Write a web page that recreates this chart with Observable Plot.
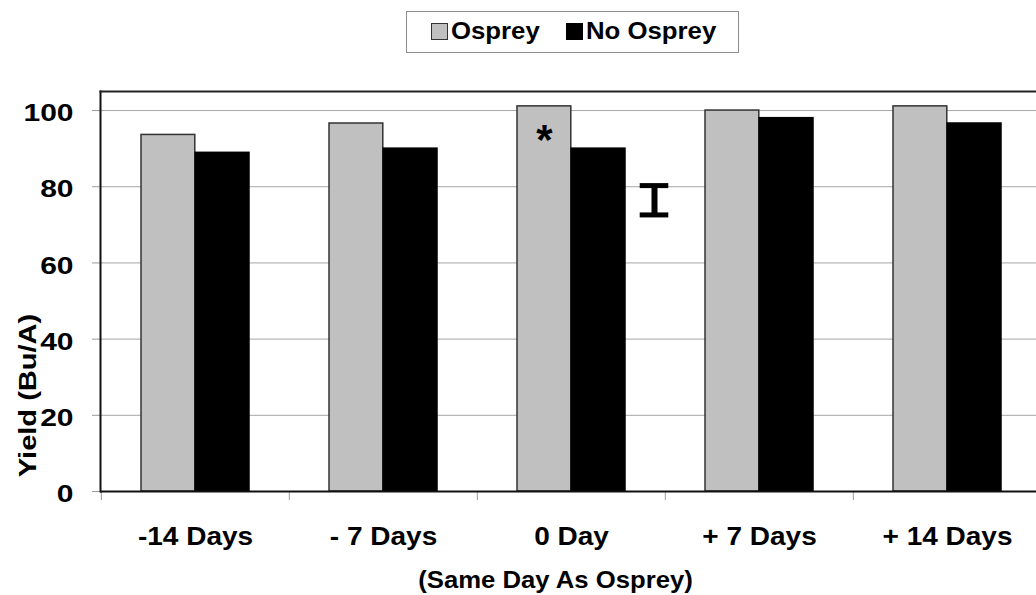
<!DOCTYPE html>
<html>
<head>
<meta charset="utf-8">
<script src="https://cdn.jsdelivr.net/npm/d3@7"></script>
<script src="https://cdn.jsdelivr.net/npm/@observablehq/plot@0.6"></script>
<style>
  body { margin: 0; background: #fff; font-family: "Liberation Sans", Arial, sans-serif; }
  #wrap { position: relative; width: 1036px; height: 595px; overflow: hidden; }
  #legend { position: absolute; left: 406px; top: 11px; width: 331px; height: 40px; border: 1.5px solid #8c8c8c; background: #fff; }
  #legend .sw { position: absolute; top: 11px; width: 15px; height: 15px; border: 1px solid #333; }
  #legend .lb { position: absolute; top: 8px; font-size: 23px; line-height: 23px; font-weight: bold; color: #000;
                display: inline-block; transform: scaleX(1.12); transform-origin: left center; white-space: nowrap; }
  svg text { font-family: "Liberation Sans", Arial, sans-serif; }
</style>
</head>
<body>
<div id="wrap"><div id="legend"></div></div>
<script>
// ---- data ----
const days = ["-14 Days", "- 7 Days", "0 Day", "+ 7 Days", "+ 14 Days"];
const series = ["Osprey", "No Osprey"];
const seriesFill = ["#c0c0c0", "#000000"];
const osprey = [93.6, 96.6, 101.1, 100.0, 101.1];
const noOsprey = [88.9, 90.0, 90.0, 98.0, 96.6];
const yTicks = [0, 20, 40, 60, 80, 100];
const lsdDay = "0 Day";
const lsdRange = [72.6, 80.3];
const starDay = "0 Day";
const starY = 92;
const xTitle = "(Same Day As Osprey)";
const yTitle = "Yield (Bu/A)";

// ---- layout ----
const W = 1036, H = 595, mL = 100, mR = -6, mT = 91, mB = 104;
const band = (W - mR - mL) / days.length;
const outer = 40;
const barW = (band - 2 * outer) / 2;

const rows = days.flatMap((d, i) => [
  {day: d, series: series[0], value: osprey[i]},
  {day: d, series: series[1], value: noOsprey[i]}
]);

const plot = Plot.plot({
  width: W, height: H,
  marginLeft: mL, marginRight: mR, marginTop: mT, marginBottom: mB,
  style: {fontFamily: "Liberation Sans, Arial, sans-serif", fontWeight: "bold", color: "#000", background: "transparent", overflow: "visible"},
  x: {domain: days, padding: 0, label: null},
  y: {domain: [0, 105], label: null},
  marks: [
    Plot.gridY(yTicks.filter(t => t > 0), {stroke: "#a6a6a6", strokeOpacity: 1}),
    Plot.axisY(yTicks, {tickSize: 8, text: null, stroke: "#9a9a9a", label: null}),
    Plot.axisY(yTicks, {tickSize: 0, tickPadding: 27, dy: 3, fontSize: 24, fontWeight: "bold", label: null}),
    Plot.axisX({tickSize: 0, tickPadding: 35.5, fontSize: 25, fontWeight: "bold", label: null}),
    Plot.ruleX(days, {x: d => d, dx: -band / 2, y1: 0, y2: 0, insetBottom: -9, stroke: "#9a9a9a"}),
    Plot.barY(rows.filter(r => r.series === series[0]), {
      x: "day", y: "value", fill: seriesFill[0], stroke: "#333", strokeWidth: 1.5,
      insetLeft: outer, insetRight: outer + barW
    }),
    Plot.barY(rows.filter(r => r.series === series[1]), {
      x: "day", y: "value", fill: seriesFill[1], stroke: "#000", strokeWidth: 1.5,
      insetLeft: outer + barW, insetRight: outer
    }),
    Plot.ruleY([0], {stroke: "#111", strokeWidth: 2}),
    Plot.frame({anchor: "left", stroke: "#111", strokeWidth: 2}),
    Plot.frame({anchor: "top", stroke: "#222", strokeWidth: 2}),
    // LSD error bar
    Plot.ruleX([lsdDay], {x: d => d, y1: lsdRange[0], y2: lsdRange[1], dx: 83, stroke: "#000", strokeWidth: 6}),
    Plot.tickY(lsdRange, {x: () => lsdDay, y: d => d, dx: 83, insetLeft: (band - 29) / 2, insetRight: (band - 29) / 2, stroke: "#000", strokeWidth: 5}),
    // significance asterisk
    Plot.text(["*"], {x: () => starDay, y: () => starY, text: d => d, dx: -27, fontSize: 42, fontWeight: "bold", fill: "#000"}),
    // titles
    Plot.text([yTitle], {frameAnchor: "left", text: d => d, rotate: -90, textAnchor: "middle", lineAnchor: "middle", dx: -72.5, dy: 104, fontSize: 24, fontWeight: "bold", fill: "#000", ariaLabel: () => "y-title"}),
    Plot.text([xTitle], {frameAnchor: "bottom", text: d => d, textAnchor: "middle", lineAnchor: "middle", dx: -16, dy: 88.6, fontSize: 24, fontWeight: "bold", fill: "#000", ariaLabel: () => "x-title"})
  ]
});

const wrap = document.getElementById("wrap");
wrap.prepend(plot);

function stretchEls(els, k) {
  els.forEach(t => {
    const L = t.getComputedTextLength();
    t.setAttribute("textLength", L * k);
    t.setAttribute("lengthAdjust", "spacingAndGlyphs");
  });
}
function byLabel(label) {
  const out = [];
  plot.querySelectorAll(`[aria-label="${label}"]`).forEach(el => {
    if (el.tagName.toLowerCase() === "text") out.push(el);
    else el.querySelectorAll("text").forEach(t => out.push(t));
  });
  return out;
}
stretchEls(byLabel("y-axis tick label"), 1.25);
stretchEls(byLabel("x-axis tick label"), 1.12);
stretchEls(byLabel("y-title"), 1.21);
stretchEls(byLabel("x-title"), 1.07);

// legend
const legend = document.getElementById("legend");
const swLeft = [23.5, 158.5];
const lbLeft = [44, 178.7];
series.forEach((s, i) => {
  const sw = document.createElement("div");
  sw.className = "sw";
  sw.style.left = swLeft[i] + "px";
  sw.style.background = seriesFill[i];
  if (i === 1) sw.style.borderColor = "#000";
  legend.appendChild(sw);
  const lb = document.createElement("span");
  lb.className = "lb";
  lb.style.left = lbLeft[i] + "px";
  lb.textContent = s;
  legend.appendChild(lb);
});
</script>
</body>
</html>
